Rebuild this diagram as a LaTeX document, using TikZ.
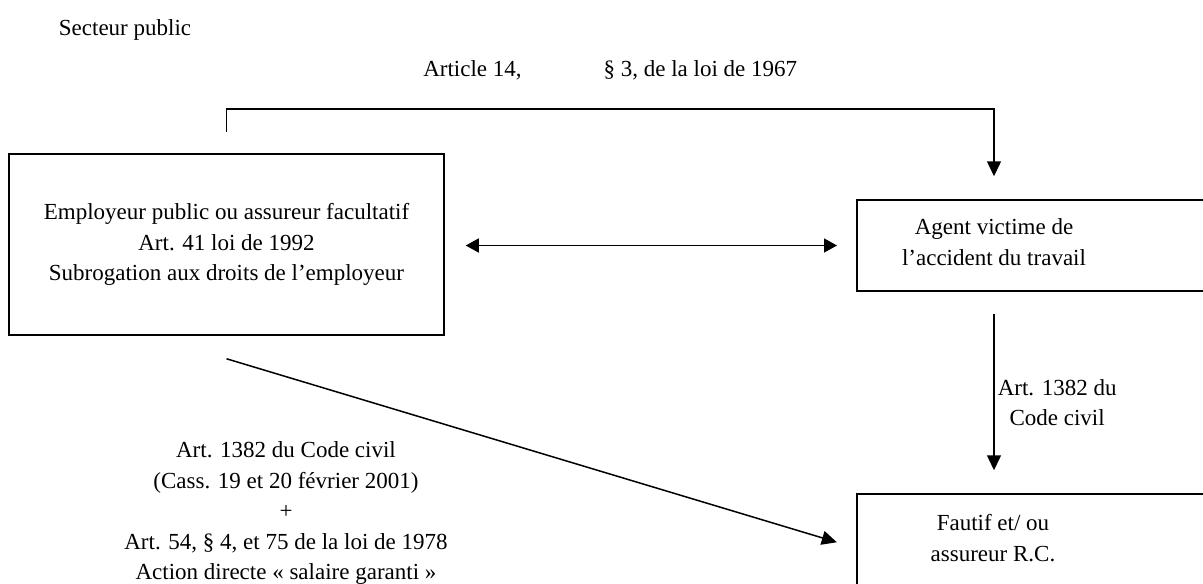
\documentclass[tikz,border=0pt]{standalone}
\usepackage{fontspec}
\setmainfont{Liberation Serif}
\usetikzlibrary{arrows.meta}

\begin{document}
\begin{tikzpicture}
            [x=1pt,y=-1pt,line width=1.5pt,
             box/.style={draw,rectangle,inner sep=0pt},
             txt/.style={align=center,inner sep=0pt,font=\fontsize{23}{30.5}\selectfont},
             arr/.style={-{Triangle[length=15pt,width=14pt]}},
             dblarr/.style={{Triangle[length=13pt,width=14pt]}-{Triangle[length=13pt,width=14pt]}}]
            \useasboundingbox (0,0) rectangle (1203,584);
            \clip (0,0) rectangle (1203,584);
            \node[txt] (secteur) at (125,29.5) {Secteur public};
            % boxes
            \node[box,txt,minimum width=435pt,minimum height=181pt] (employeur) at (226.5,244.5)
                {Employeur public ou assureur facultatif\\Art. 41 loi de 1992\\Subrogation aux droits de l'employeur};
            \node[box,minimum width=400pt,minimum height=91pt,anchor=west] (agentbox) at (856,245.5) {};
            \node[txt] (agent) at (994,242) {Agent victime de\\l'accident du travail};
            \node[box,minimum width=400pt,minimum height=92pt,anchor=west] (fautifbox) at (856,540) {};
            \node[txt] (fautif) at (993,538) {Fautif et/ ou\\assureur R.C.};
            \node[txt] (art1382) at (286,513)
                {Art. 1382 du Code civil\\(Cass. 19 et 20 février 2001)\\+\\Art. 54, § 4, et 75 de la loi de 1978\\Action directe « salaire garanti »};
            \coordinate (coude) at (994,109);
            % the links
            \draw[arr,shorten >=23pt] ([yshift=21pt]employeur.north) |-
                node[pos=.75,above=28pt,txt] {Article 14,\hspace{82pt}§ 3, de la loi de 1967} (coude)
                -- (agent |- agentbox.north);
            \draw[dblarr,shorten <=21pt,shorten >=19pt] ([yshift=-1pt]employeur.east) -- ([yshift=-1pt]employeur.east -| agentbox.west);
            \draw[arr,shorten <=22pt,shorten >=23pt] (agent |- agentbox.south) --
                node[pos=.55,right=3pt,txt] {Art. 1382 du\\Code civil} (agent |- fautifbox.north);
            \draw[arr,shorten >=20pt] ([yshift=-23pt]employeur.south) -- ([yshift=-8pt]fautifbox.west);
        \end{tikzpicture}
\end{document}
